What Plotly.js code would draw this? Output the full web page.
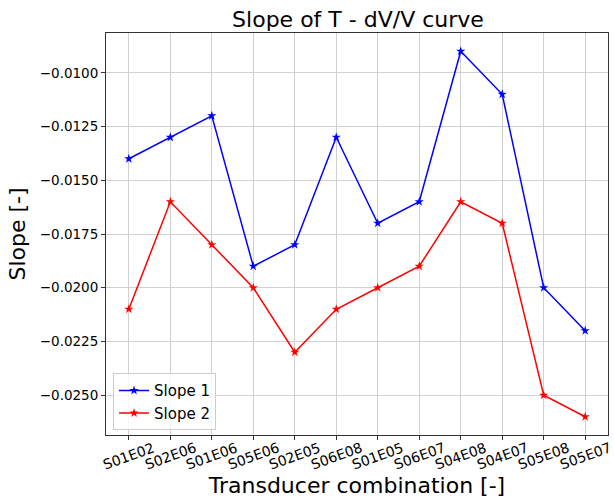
<!DOCTYPE html>
<html><head><meta charset="utf-8">
<script src="https://cdn.plot.ly/plotly-3.0.1.min.js"></script>
<style>html,body{margin:0;padding:0;background:#fff}#chart{width:614px;height:499px}</style>
</head><body><div id="chart"></div>
<script>
const categories = ["S01E02","S02E06","S01E06","S05E06","S02E05","S06E08","S01E05","S06E07","S04E08","S04E07","S05E08","S05E07"];
const slope1 = [-0.014,-0.013,-0.012,-0.019,-0.018,-0.013,-0.017,-0.016,-0.009,-0.011,-0.020,-0.022];
const slope2 = [-0.021,-0.016,-0.018,-0.020,-0.023,-0.021,-0.020,-0.019,-0.016,-0.017,-0.025,-0.026];
const yTicks = [-0.0100,-0.0125,-0.0150,-0.0175,-0.0200,-0.0225,-0.0250];

const font = "DejaVu Sans, sans-serif";
const idx = categories.map((c,i)=>i);
const traces = [
  {x: idx, y: slope1, name: "Slope 1", mode: "lines+markers", line:{color:"#0000ff", width:1.5}, marker:{symbol:"star", size:7, color:"#0000ff"}},
  {x: idx, y: slope2, name: "Slope 2", mode: "lines+markers", line:{color:"#ff0000", width:1.5}, marker:{symbol:"star", size:7, color:"#ff0000"}}
];
const tickAnnotations = categories.map((c,i)=>({
  x: i, xref:"x", y: 0, yref:"paper", text: c, showarrow:false, textangle:-20,
  xanchor:"center", yanchor:"middle", yshift:-21, font:{size:14, family:font, color:"#000"}
}));
const layout = {
  width: 614, height: 499,
  margin: {l:106, r:6, t:33, b:64},
  paper_bgcolor: "#fff", plot_bgcolor: "#fff",
  font: {family: font, color: "#000"},
  title: {text: "Slope of T - dV/V curve", font:{size:22, family: font}, x:0.583, xanchor:"center", y:0.962, yanchor:"middle"},
  showlegend: true,
  legend: {x:0.014, y:0.012, xanchor:"left", yanchor:"bottom", bgcolor:"rgba(255,255,255,0.8)", bordercolor:"#cccccc", borderwidth:1, font:{size:15, family: font}},
  annotations: tickAnnotations,
  xaxis: {
    range: [-0.55, 11.55], tickmode:"array", tickvals: idx, ticktext: categories, showticklabels:false,
    showgrid: true, gridcolor:"#d0d0d0", gridwidth:1, zeroline:false,
    showline: true, linecolor:"#333", linewidth:1, mirror: true,
    ticks:"outside", ticklen:4, tickcolor:"#333",
    title: {text: "Transducer combination [-]", font:{size:22, family: font}, standoff: 38}
  },
  yaxis: {
    range: [-0.02685, -0.00815], tickmode:"array", tickvals: yTicks, tickformat: ".4f",
    showgrid: true, gridcolor:"#d0d0d0", gridwidth:1, zeroline:false,
    showline: true, linecolor:"#333", linewidth:1, mirror: true,
    ticks:"outside", ticklen:4, tickcolor:"#333", tickfont:{size:13.5, family: font},
    title: {text: "Slope [-]", font:{size:22, family: font}, standoff: 8}
  }
};
Plotly.newPlot("chart", traces, layout, {displayModeBar:false, staticPlot:true});
</script></body></html>
